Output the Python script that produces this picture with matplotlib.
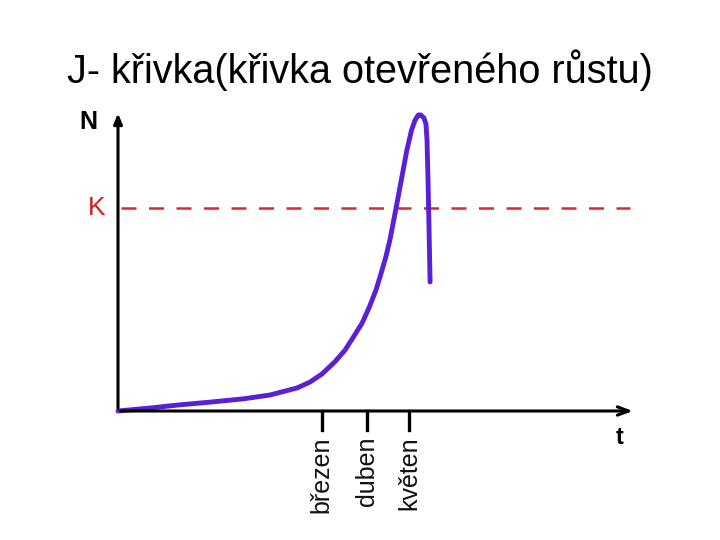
import matplotlib
matplotlib.use("Agg")
import matplotlib.pyplot as plt

# Curve (time, population) in relative units 0..100
t_vals = [0, 6.2, 11.5, 17.9, 24.3, 29.5, 34.8, 37.3, 39.6, 42.1, 44.1, 45.6, 47.4,
          48.8, 50.1, 51.1, 52.0, 52.8, 54.0, 54.9, 56.1, 57.0, 57.7, 58.3, 58.8,
          59.4, 59.8, 60.0, 60.2, 60.4, 60.6]
n_vals = [0, 1.0, 2.0, 3.0, 4.1, 5.4, 7.8, 9.8, 12.5, 16.6, 20.6, 24.7, 29.7,
          35.1, 40.9, 46.6, 52.0, 57.8, 68.6, 77.0, 88.2, 94.9, 98.3, 100.0, 100.0,
          99.0, 97.0, 91.6, 78.0, 61.1, 43.6]
K_level = 68.6
month_labels = ["březen", "duben", "květen"]
month_pos = [39.6, 48.3, 56.5]
title = "J- křivka(křivka otevřeného růstu)"

plt.rcParams['font.family'] = ['Liberation Sans', 'DejaVu Sans']
fig = plt.figure(figsize=(7.2, 5.4), dpi=100)
W, H = 720, 540
x0, y0 = 118, 411
x1, y1 = 633, 115
ax = fig.add_axes([x0 / W, (H - y0) / H, (x1 - x0) / W, (y0 - y1) / H])
ax.set_xlim(0, 100)
ax.set_ylim(0, 100)
ax.axis('off')

# axes arrows
ax.annotate('', xy=(0, 101.5), xytext=(0, 0), xycoords='data',
            arrowprops=dict(arrowstyle='-|>,head_length=0.6,head_width=0.25', lw=2.2, color='black'),
            annotation_clip=False)
ax.annotate('', xy=(100.5, 0), xytext=(0, 0), xycoords='data',
            arrowprops=dict(arrowstyle='->,head_length=0.8,head_width=0.3', lw=2.2, color='black'),
            annotation_clip=False)

# K line
ax.plot([0.5, 99.5], [K_level, K_level], color='#e0282a', lw=1.8, ls=(0, (6, 5)), clip_on=False)

# curve
ax.plot(t_vals, n_vals, color='#5b1fd6', lw=3.5, solid_capstyle='round',
        solid_joinstyle='round', clip_on=False)

# month ticks
for p, lab in zip(month_pos, month_labels):
    ax.plot([p, p], [0, -6.5], color='black', lw=2.4, clip_on=False)
    ax.text(p, -8.5, lab, rotation=90, ha='center', va='top', fontsize=18, color='#111111')

ax.text(-4.0, 97.5, 'N', ha='right', va='center', fontsize=18, fontweight='bold')
ax.text(-2.5, K_level, 'K', ha='right', va='center', fontsize=19, color='#d02020')
ax.text(97.5, -8.8, 't', ha='center', va='center', fontsize=17, fontweight='bold')

fig.text(360 / W, 1 - 70 / H, title, ha='center', va='center', fontsize=28.5)

fig.savefig('out.png', dpi=100)
